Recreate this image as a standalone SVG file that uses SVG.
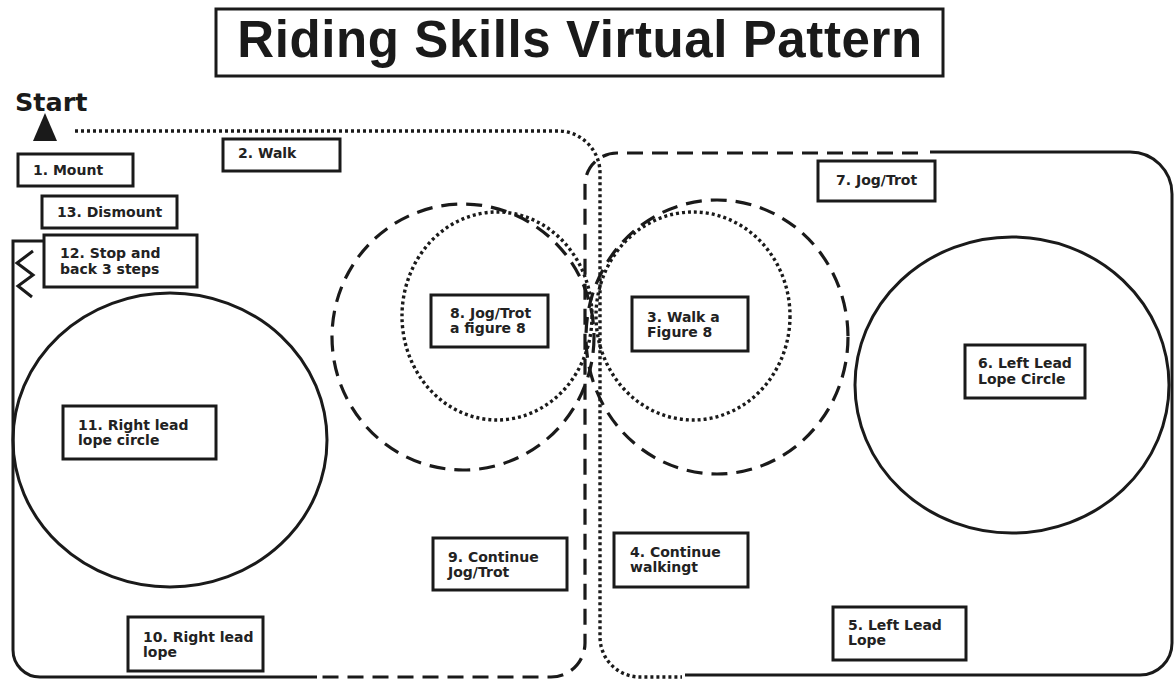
<svg xmlns="http://www.w3.org/2000/svg" width="1174" height="681" viewBox="0 0 1174 681">
<style>
.box{fill:#fff;stroke:#1a1a1a;stroke-width:3}
.lbl{font-family:"DejaVu Sans","Liberation Sans",sans-serif;font-weight:bold;font-size:14px;fill:#222}
.solid{fill:none;stroke:#1a1a1a;stroke-width:3}
.dash{fill:none;stroke:#1a1a1a;stroke-width:3.2;stroke-dasharray:16 9}
.dot{fill:none;stroke:#1a1a1a;stroke-width:3.4;stroke-dasharray:3 3}
</style>
<rect width="1174" height="681" fill="#fff"/>
<g id="title">
<rect x="216" y="9" width="727" height="67" class="box"/>
<text x="580" y="57" text-anchor="middle" font-family="'Liberation Sans',Arial,sans-serif" font-weight="bold" font-size="51" letter-spacing="0.6" fill="#1a1a1a">Riding Skills Virtual Pattern</text>
</g>
<g id="start">
<text x="15" y="111" font-family="'DejaVu Sans',sans-serif" font-weight="bold" font-size="25.5" fill="#1a1a1a">Start</text>
<polygon points="45,113 33,141 57,141" fill="#1a1a1a"/>
</g>
<g id="figures">
<ellipse cx="170" cy="440" rx="157" ry="147" class="solid"/>
<ellipse cx="1012" cy="385" rx="157" ry="148" class="solid"/>
<ellipse cx="463" cy="337" rx="131" ry="133" class="dash"/>
<ellipse cx="717" cy="337" rx="131" ry="137" class="dash"/>
<ellipse cx="497" cy="316" rx="95" ry="104" class="dot"/>
<ellipse cx="693" cy="316" rx="97" ry="104" class="dot"/>
</g>
<g id="connectors">
<path class="dot" d="M75,131 H558 A42,42 0 0 1 600,173 V637 A40,40 0 0 0 640,677 H682"/>
<path class="solid" d="M685,675 H1140 A32,32 0 0 0 1172,643 V194 A42,42 0 0 0 1130,152 H930"/>
<path class="dash" d="M918,153 H617 A32,32 0 0 0 585,185 V643 A34,34 0 0 1 551,677 H320"/>
<path class="solid" d="M317,677 H40 A27,27 0 0 1 13,650 V241 H44"/>
<polyline class="solid" points="33,251 17,263 33,275 18,286 32,297"/>
</g>
<g id="n1"><rect x="18" y="154" width="115" height="32" class="box"/><text x="33" y="175" class="lbl">1. Mount</text></g>
<g id="n2"><rect x="223" y="139" width="117" height="32" class="box"/><text x="238" y="158" class="lbl">2. Walk</text></g>
<g id="n13"><rect x="42" y="196" width="135" height="32" class="box"/><text x="57" y="217" class="lbl">13. Dismount</text></g>
<g id="n12"><rect x="44" y="235" width="153" height="52" class="box"/><text x="60" y="258" class="lbl">12. Stop and</text><text x="60" y="274" class="lbl">back 3 steps</text></g>
<g id="n8"><rect x="431" y="295" width="117" height="52" class="box"/><text x="450" y="318" class="lbl">8. Jog/Trot</text><text x="450" y="333" class="lbl">a figure 8</text></g>
<g id="n3"><rect x="632" y="297" width="116" height="54" class="box"/><text x="647" y="322" class="lbl">3. Walk a</text><text x="647" y="337" class="lbl">Figure 8</text></g>
<g id="n7"><rect x="818" y="161" width="117" height="40" class="box"/><text x="836" y="185" class="lbl">7. Jog/Trot</text></g>
<g id="n6"><rect x="965" y="345" width="120" height="53" class="box"/><text x="978" y="368" class="lbl">6. Left Lead</text><text x="978" y="384" class="lbl">Lope Circle</text></g>
<g id="n11"><rect x="63" y="406" width="153" height="53" class="box"/><text x="78" y="430" class="lbl">11. Right lead</text><text x="78" y="445" class="lbl">lope circle</text></g>
<g id="n9"><rect x="433" y="538" width="134" height="52" class="box"/><text x="448" y="562" class="lbl">9. Continue</text><text x="448" y="577" class="lbl">Jog/Trot</text></g>
<g id="n4"><rect x="614" y="533" width="134" height="54" class="box"/><text x="630" y="557" class="lbl">4. Continue</text><text x="630" y="572" class="lbl">walkingt</text></g>
<g id="n10"><rect x="128" y="617" width="135" height="54" class="box"/><text x="143" y="642" class="lbl">10. Right lead</text><text x="143" y="657" class="lbl">lope</text></g>
<g id="n5"><rect x="833" y="607" width="133" height="53" class="box"/><text x="848" y="630" class="lbl">5. Left Lead</text><text x="848" y="645" class="lbl">Lope</text></g>
</svg>
